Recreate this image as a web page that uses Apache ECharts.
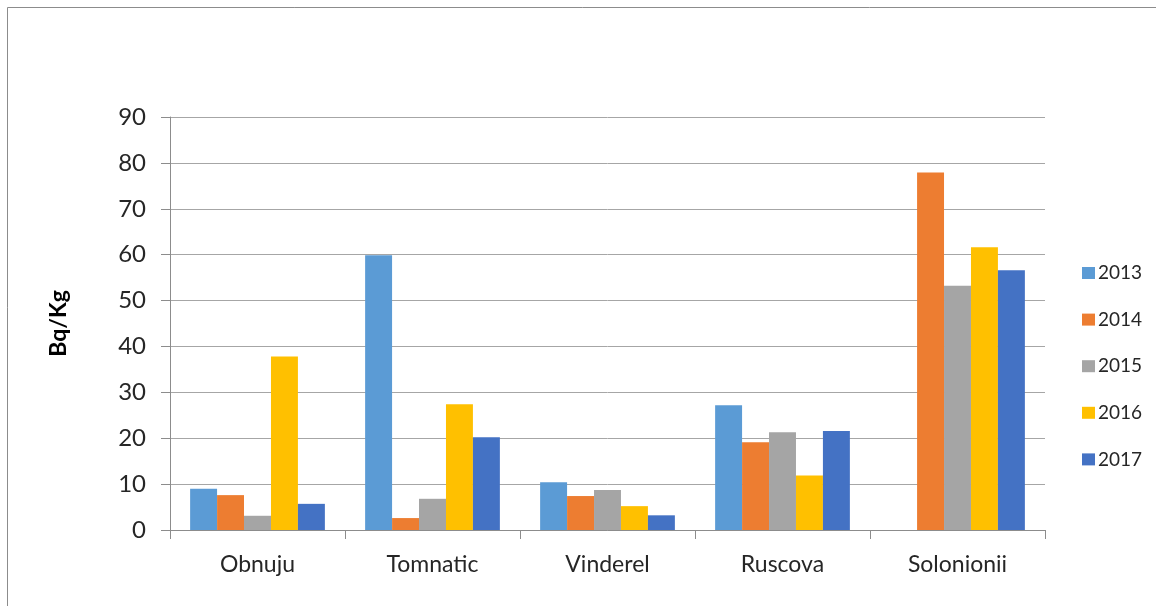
<!DOCTYPE html>
<html>
<head>
<meta charset="utf-8">
<script src="https://cdn.jsdelivr.net/npm/echarts@6/dist/echarts.min.js"></script>
<style>
  html, body { margin: 0; padding: 0; background: #fff; }
  #chart { width: 1156px; height: 606px; }
</style>
</head>
<body>
<div id="chart"></div>
<script>
// Sites sampled and activity per year (Bq/Kg)
const categories = ['Obnuju', 'Tomnatic', 'Vinderel', 'Ruscova', 'Solonionii'];
const years = ['2013', '2014', '2015', '2016', '2017'];
const v2013 = [9.0, 59.9, 10.4, 27.2, null];
const v2014 = [7.6, 2.6, 7.4, 19.1, 77.9];
const v2015 = [3.1, 6.8, 8.7, 21.3, 53.2];
const v2016 = [37.8, 27.4, 5.2, 11.9, 61.6];
const v2017 = [5.7, 20.2, 3.2, 21.6, 56.6];
const yTicks = { min: 0, max: 90, interval: 10 };

const colors = ['#5B9BD5', '#ED7D31', '#A5A5A5', '#FFC000', '#4472C4'];
const seriesValues = [v2013, v2014, v2015, v2016, v2017];
const font = 'Lato, "Open Sans", sans-serif';

const chart = echarts.init(document.getElementById('chart'), null, { renderer: 'canvas' });
chart.setOption({
  backgroundColor: '#fff',
  animation: false,
  color: colors,
  graphic: [{
    type: 'rect',
    shape: { x: 7.5, y: 7.5, width: 1170, height: 640 },
    style: { fill: 'none', stroke: '#8c8c8c', lineWidth: 1 },
    silent: true
  }],
  grid: { left: 170, right: 111, top: 117, bottom: 76 },
  legend: {
    orient: 'vertical',
    left: 1077,
    top: 257,
    itemWidth: 13,
    itemHeight: 12,
    itemGap: 24.6,
    icon: 'rect',
    textStyle: { fontFamily: font, fontSize: 19, color: '#262626', lineHeight: 22, padding: [0, 0, 0, -2] },
    data: years
  },
  xAxis: {
    type: 'category',
    data: categories,
    axisLine: { lineStyle: { color: '#8c8c8c', width: 1 } },
    axisTick: { show: true, length: 9, lineStyle: { color: '#8c8c8c' } },
    axisLabel: { fontFamily: font, fontSize: 23, color: '#262626', margin: 23 }
  },
  yAxis: {
    type: 'value',
    min: yTicks.min,
    max: yTicks.max,
    interval: yTicks.interval,
    name: 'Bq/Kg',
    nameLocation: 'middle',
    nameRotate: 90,
    nameGap: 100,
    nameTextStyle: { fontFamily: font, fontSize: 23, fontWeight: 'bold', color: '#000' },
    axisLine: { show: true, lineStyle: { color: '#8c8c8c', width: 1 } },
    axisTick: { show: true, length: 9, lineStyle: { color: '#8c8c8c' } },
    splitLine: { lineStyle: { color: '#a6a6a6', width: 1 } },
    axisLabel: { fontFamily: font, fontSize: 24, color: '#262626', margin: 24 }
  },
  series: years.map((y, i) => ({
    name: y,
    type: 'bar',
    data: seriesValues[i],
    barGap: '0%',
    barCategoryGap: '23%',
    itemStyle: { color: colors[i] }
  }))
});
</script>
</body>
</html>
